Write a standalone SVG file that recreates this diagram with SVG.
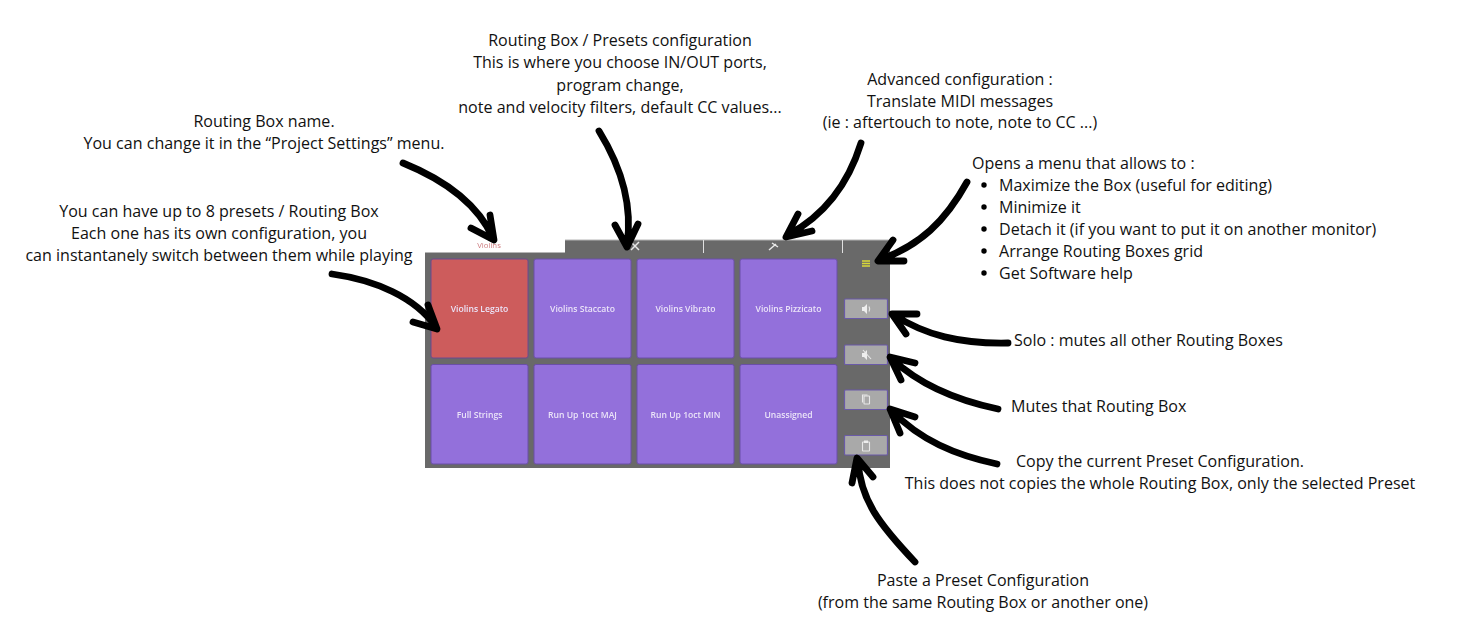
<svg xmlns="http://www.w3.org/2000/svg" width="1457" height="632" viewBox="0 0 1457 632">
<style>
.t{font-family:"Open Sans","Liberation Sans",sans-serif;font-size:16.05px;fill:#111;text-anchor:middle}
.l{text-anchor:start}
.tile{fill:#9370db;stroke:#6a4fa8;stroke-width:1}
.red{fill:#cd5c5c;stroke:#6a4a90}
.lab{font-family:"Open Sans","Liberation Sans",sans-serif;font-size:8.6px;font-weight:600;fill:#ebe4f8;text-anchor:middle}
.btn{fill:#a9a9a9;stroke:#6a5aa8;stroke-width:1.2}
.ic{fill:none;stroke:#e8e8e8;stroke-width:1.1}
.icf{fill:#eeeeee}
.a{fill:none;stroke:#000;stroke-width:6.800;stroke-linecap:round;stroke-linejoin:round}
</style>
<defs><filter id="soft" x="-5%" y="-5%" width="110%" height="110%"><feGaussianBlur stdDeviation="0.350"/></filter></defs>
<rect width="1457" height="632" fill="#fff"/>
<g filter="url(#soft)">
<g id="panel">
<path d="M425 252H565V240H890V468H425Z" fill="#696969"/>
<path d="M425 252.500H565M565 240H890" stroke="#b5b5b5" stroke-width="1" fill="none"/>
<path d="M703.500 240V253M842.500 240V253" stroke="#e0e0e0" stroke-width="1"/>
<text x="489" y="248" font-family="Open Sans,Liberation Sans,sans-serif" font-size="7.800" fill="#cd7c80" text-anchor="middle">Violins</text>
<path d="M631 242L639 250M639 242L631 250" stroke="#e8e8e8" stroke-width="1.500"/>
<path d="M769 250L776 244M772 243L778 247" stroke="#e8e8e8" stroke-width="1.500"/>
<path d="M862 261H870M862 263.500H870M862 266H870" stroke="#d8d838" stroke-width="1.400"/>
</g>
<g id="tile-1"><rect class="tile red" x="431" y="259" width="97" height="99" rx="2"/><text class="lab" x="479.500" y="312">Violins Legato</text></g>
<g id="tile-2"><rect class="tile" x="534" y="259" width="97" height="99" rx="2"/><text class="lab" x="582.500" y="312">Violins Staccato</text></g>
<g id="tile-3"><rect class="tile" x="637" y="259" width="97" height="99" rx="2"/><text class="lab" x="685.500" y="312">Violins Vibrato</text></g>
<g id="tile-4"><rect class="tile" x="740" y="259" width="97" height="99" rx="2"/><text class="lab" x="788.500" y="312">Violins Pizzicato</text></g>
<g id="tile-5"><rect class="tile" x="431" y="364.500" width="97" height="99.500" rx="2"/><text class="lab" x="479.500" y="417.500">Full Strings</text></g>
<g id="tile-6"><rect class="tile" x="534" y="364.500" width="97" height="99.500" rx="2"/><text class="lab" x="582.500" y="417.500">Run Up 1oct MAJ</text></g>
<g id="tile-7"><rect class="tile" x="637" y="364.500" width="97" height="99.500" rx="2"/><text class="lab" x="685.500" y="417.500">Run Up 1oct MIN</text></g>
<g id="tile-8"><rect class="tile" x="740" y="364.500" width="97" height="99.500" rx="2"/><text class="lab" x="788.500" y="417.500">Unassigned</text></g>
<g id="btn-solo"><rect class="btn" x="844.500" y="299" width="43" height="19.500" rx="1"/><path class="icf" d="M862 307h2l3-3v10l-3-3h-2z"/><path class="ic" d="M869 306.500q1.500 2.500 0 5"/></g>
<g id="btn-mute"><rect class="btn" x="844.500" y="345" width="43" height="19.500" rx="1"/><path class="icf" d="M862 353h2l3-3v10l-3-3h-2z"/><path class="ic" d="M863 350l8 9"/></g>
<g id="btn-copy"><rect class="btn" x="844.500" y="390" width="43" height="19.500" rx="1"/><rect class="ic" x="864" y="396" width="5.500" height="8" rx="0.500"/><path class="ic" d="M862.500 402.500v-7.500h5"/></g>
<g id="btn-paste"><rect class="btn" x="844.500" y="435.500" width="43" height="19.500" rx="1"/><rect class="ic" x="862.500" y="442" width="7" height="9" rx="0.500"/><rect class="icf" x="864" y="440.500" width="4" height="2.500"/></g>
</g>
<g id="connectors">
<path class="a" d="M403 163C440 178 476 200 493 238M471 228L494 240L490 215"/>
<path class="a" d="M599 131C620 165 633 205 627 245M615 225L627 247L638 224"/>
<path class="a" d="M332 274C375 280 415 297 436 327M413 322L437 329L428 305"/>
<path class="a" d="M861 143C848 185 825 215 788 235M798 214L786 237L812 231"/>
<path class="a" d="M967 182C945 222 920 245 880 260M893 240L878 261L904 261"/>
<path class="a" d="M1008 343C960 344 925 335 894 315M917 314L892 314L906 334"/>
<path class="a" d="M998 409C955 400 920 385 892 359M915 363L890 357L901 380"/>
<path class="a" d="M997 464C955 455 920 440 892 411M915 417L890 409L900 433"/>
<path class="a" d="M915 562C880 525 860 500 858 460M852 483L857 458L873 477"/>
</g>
<g id="note-routing-name"><text class="t" x="264" y="127">Routing Box name.</text><text class="t" x="264" y="149">You can change it in the “Project Settings” menu.</text></g>
<g id="note-presets"><text class="t" x="219" y="217">You can have up to 8 presets / Routing Box</text><text class="t" x="219" y="239">Each one has its own configuration, you</text><text class="t" x="219" y="261">can instantanely switch between them while playing</text></g>
<g id="note-config"><text class="t" x="620" y="46">Routing Box / Presets configuration</text><text class="t" x="620" y="68">This is where you choose IN/OUT ports,</text><text class="t" x="620" y="91">program change,</text><text class="t" x="620" y="113">note and velocity filters, default CC values...</text></g>
<g id="note-advanced"><text class="t" x="960" y="85">Advanced configuration :</text><text class="t" x="960" y="107">Translate MIDI messages</text><text class="t" x="960" y="128">(ie : aftertouch to note, note to CC ...)</text></g>
<g id="note-menu"><text class="t l" x="972" y="169">Opens a menu that allows to :</text>
<circle cx="984" cy="185" r="2.700"/><text class="t l" x="999" y="191">Maximize the Box (useful for editing)</text>
<circle cx="984" cy="207" r="2.700"/><text class="t l" x="999" y="213">Minimize it</text>
<circle cx="984" cy="229" r="2.700"/><text class="t l" x="999" y="235">Detach it (if you want to put it on another monitor)</text>
<circle cx="984" cy="251" r="2.700"/><text class="t l" x="999" y="257">Arrange Routing Boxes grid</text>
<circle cx="984" cy="273" r="2.700"/><text class="t l" x="999" y="279">Get Software help</text></g>
<g id="note-solo"><text class="t l" x="1014" y="346">Solo : mutes all other Routing Boxes</text></g>
<g id="note-mute"><text class="t l" x="1011" y="412">Mutes that Routing Box</text></g>
<g id="note-copy"><text class="t" x="1160" y="466.500">Copy the current Preset Configuration.</text><text class="t" x="1160" y="488.500">This does not copies the whole Routing Box, only the selected Preset</text></g>
<g id="note-paste"><text class="t" x="983" y="586">Paste a Preset Configuration</text><text class="t" x="983" y="608">(from the same Routing Box or another one)</text></g>
</svg>
